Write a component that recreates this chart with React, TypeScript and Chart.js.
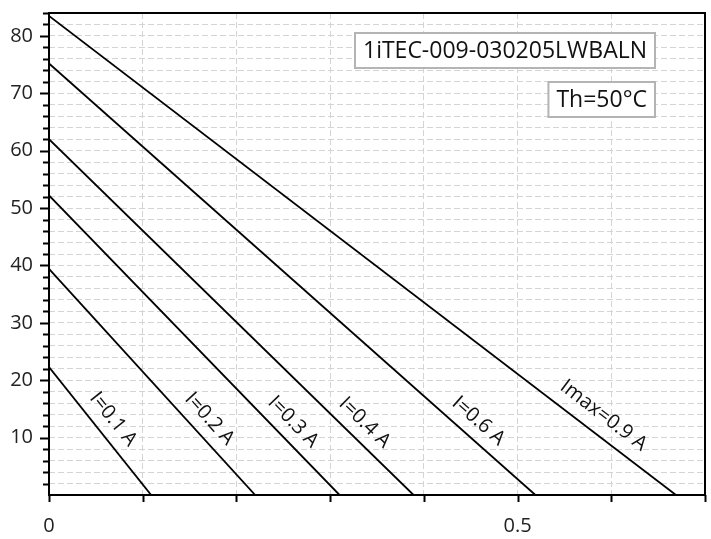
import React, { useEffect, useRef } from 'react';
import { Chart, registerables } from 'chart.js';

Chart.register(...registerables);

const seriesLabels = ['I=0.1 A', 'I=0.2 A', 'I=0.3 A', 'I=0.4 A', 'I=0.6 A', 'Imax=0.9 A'];
const yIntercepts = [22.3, 39.4, 52.2, 62.0, 75.2, 83.5];
const xIntercepts = [0.109, 0.22, 0.31, 0.389, 0.519, 0.669];
const labelAnchorY = [11.3, 11.2, 10.6, 10.4, 10.6, 11.2];
const yTickLabels = [10, 20, 30, 40, 50, 60, 70, 80];
const xTickLabels = [0, 0.5];
const modelName = '1iTEC-009-030205LWBALN';
const hotSide = 'Th=50°C';

const FONT = '"Open Sans", "DejaVu Sans", sans-serif';

const overlay = {
  id: 'overlay',
  afterDatasetsDraw(chart: any) {
    const { ctx, chartArea: a, scales } = chart;
    const x = scales.x, y = scales.y;
    ctx.save();
    // line labels
    ctx.font = `20px ${FONT}`;
    ctx.fillStyle = '#111';
    ctx.textAlign = 'center';
    ctx.textBaseline = 'middle';
    seriesLabels.forEach((t, i) => {
      const x0 = x.getPixelForValue(0), y0 = y.getPixelForValue(yIntercepts[i]);
      const x1 = x.getPixelForValue(xIntercepts[i]), y1 = y.getPixelForValue(0);
      const ang = Math.atan2(y1 - y0, x1 - x0);
      const vy = labelAnchorY[i];
      const vx = xIntercepts[i] * (1 - vy / yIntercepts[i]);
      const px = x.getPixelForValue(vx), py = y.getPixelForValue(vy);
      const d = 15 + ctx.measureText(t).width * 0.04;
      const cx = px + d * Math.sin(ang), cy = py - d * Math.cos(ang);
      ctx.save();
      ctx.translate(cx, cy);
      ctx.rotate(ang);
      ctx.fillText(t, 0, 0);
      ctx.restore();
    });
    // annotation boxes
    ctx.font = `23px ${FONT}`;
    const boxes = [
      { text: modelName, top: a.top + 20 },
      { text: hotSide, top: a.top + 69 },
    ];
    const right = a.right - 50;
    boxes.forEach((b) => {
      const w = ctx.measureText(b.text).width + 16;
      const h = 35;
      ctx.fillStyle = '#fff';
      ctx.fillRect(right - w, b.top, w, h);
      ctx.strokeStyle = '#b4b4b4';
      ctx.lineWidth = 2;
      ctx.setLineDash([]);
      ctx.strokeRect(right - w, b.top, w, h);
      ctx.fillStyle = '#111';
      ctx.textAlign = 'center';
      ctx.textBaseline = 'middle';
      ctx.fillText(b.text, right - w / 2, b.top + h / 2 + 1);
    });
    ctx.restore();
  },
  afterDraw(chart: any) {
    const { ctx, chartArea: a, scales } = chart;
    const x = scales.x, y = scales.y;
    ctx.save();
    ctx.strokeStyle = '#000';
    ctx.setLineDash([]);
    // frame
    ctx.lineWidth = 2;
    ctx.strokeRect(a.left, a.top, a.right - a.left, a.bottom - a.top);
    // y ticks
    ctx.lineWidth = 2;
    for (let v = 2; v <= y.max; v += 2) {
      const py = Math.round(y.getPixelForValue(v)) + 0.5;
      const len = v % 10 === 0 ? 9 : 6;
      ctx.beginPath();
      ctx.moveTo(a.left - len, py);
      ctx.lineTo(a.left, py);
      ctx.stroke();
    }
    // x ticks
    for (let k = 0; k <= 7; k++) {
      const px = Math.round(x.getPixelForValue(k / 10)) + 0.5;
      ctx.beginPath();
      ctx.moveTo(px, a.bottom);
      ctx.lineTo(px, a.bottom + 7);
      ctx.stroke();
    }
    ctx.restore();
  },
};

export default function App() {
  const ref = useRef<HTMLCanvasElement>(null);
  useEffect(() => {
    document.body.style.margin = '0';
    const datasets = seriesLabels.map((lab, i) => ({
      label: lab,
      data: [
        { x: 0, y: yIntercepts[i] },
        { x: xIntercepts[i], y: 0 },
      ],
      borderColor: '#000',
      borderWidth: 1.8,
      pointRadius: 0,
      fill: false,
      tension: 0,
    }));
    const chart = new Chart(ref.current!, {
      type: 'line',
      data: { datasets },
      plugins: [overlay],
      options: {
        responsive: false,
        animation: false,
        layout: { padding: { top: 13, right: 6, left: 0, bottom: 0 } },
        plugins: { legend: { display: false }, tooltip: { enabled: false } },
        scales: {
          x: {
            type: 'linear',
            min: 0,
            max: 0.7,
            afterFit: (s: any) => { s.height = 44; s.paddingLeft = 0; s.paddingRight = 0; },
            ticks: {
              stepSize: 0.1,
              autoSkip: false,
              maxRotation: 0,
              padding: 19,
              color: '#222',
              font: { family: FONT, size: 20 },
              callback: (v: any) => {
                const n = Number(v);
                return xTickLabels.some((t) => Math.abs(t - n) < 1e-6) ? String(Math.round(n * 10) / 10) : '';
              },
            },
            grid: {
              drawTicks: false,
              lineWidth: 1,
              color: (c: any) => {
                const v = c.tick ? c.tick.value : 0;
                return v < 1e-6 || v > 0.699 ? 'rgba(0,0,0,0)' : '#d4d4d4';
              },
            },
            border: { display: false, dash: [6, 3] },
          },
          y: {
            type: 'linear',
            min: 0,
            max: 84,
            afterFit: (s: any) => { s.width = 49; s.paddingTop = 0; s.paddingBottom = 0; },
            ticks: {
              stepSize: 2,
              autoSkip: false,
              padding: 16,
              color: '#222',
              font: { family: FONT, size: 20 },
              callback: (v: any) => (yTickLabels.includes(Number(v)) ? String(v) : ''),
            },
            grid: {
              drawTicks: false,
              lineWidth: 1,
              color: (c: any) => {
                const v = c.tick ? c.tick.value : 0;
                return v < 1e-6 || v > 83.9 ? 'rgba(0,0,0,0)' : '#d4d4d4';
              },
            },
            border: { display: false, dash: [6, 3] },
          },
        },
      },
    });
    return () => chart.destroy();
  }, []);
  return (
    <div style={{ width: 711, height: 539, background: '#fff' }}>
      <canvas ref={ref} width={711} height={539} />
    </div>
  );
}
